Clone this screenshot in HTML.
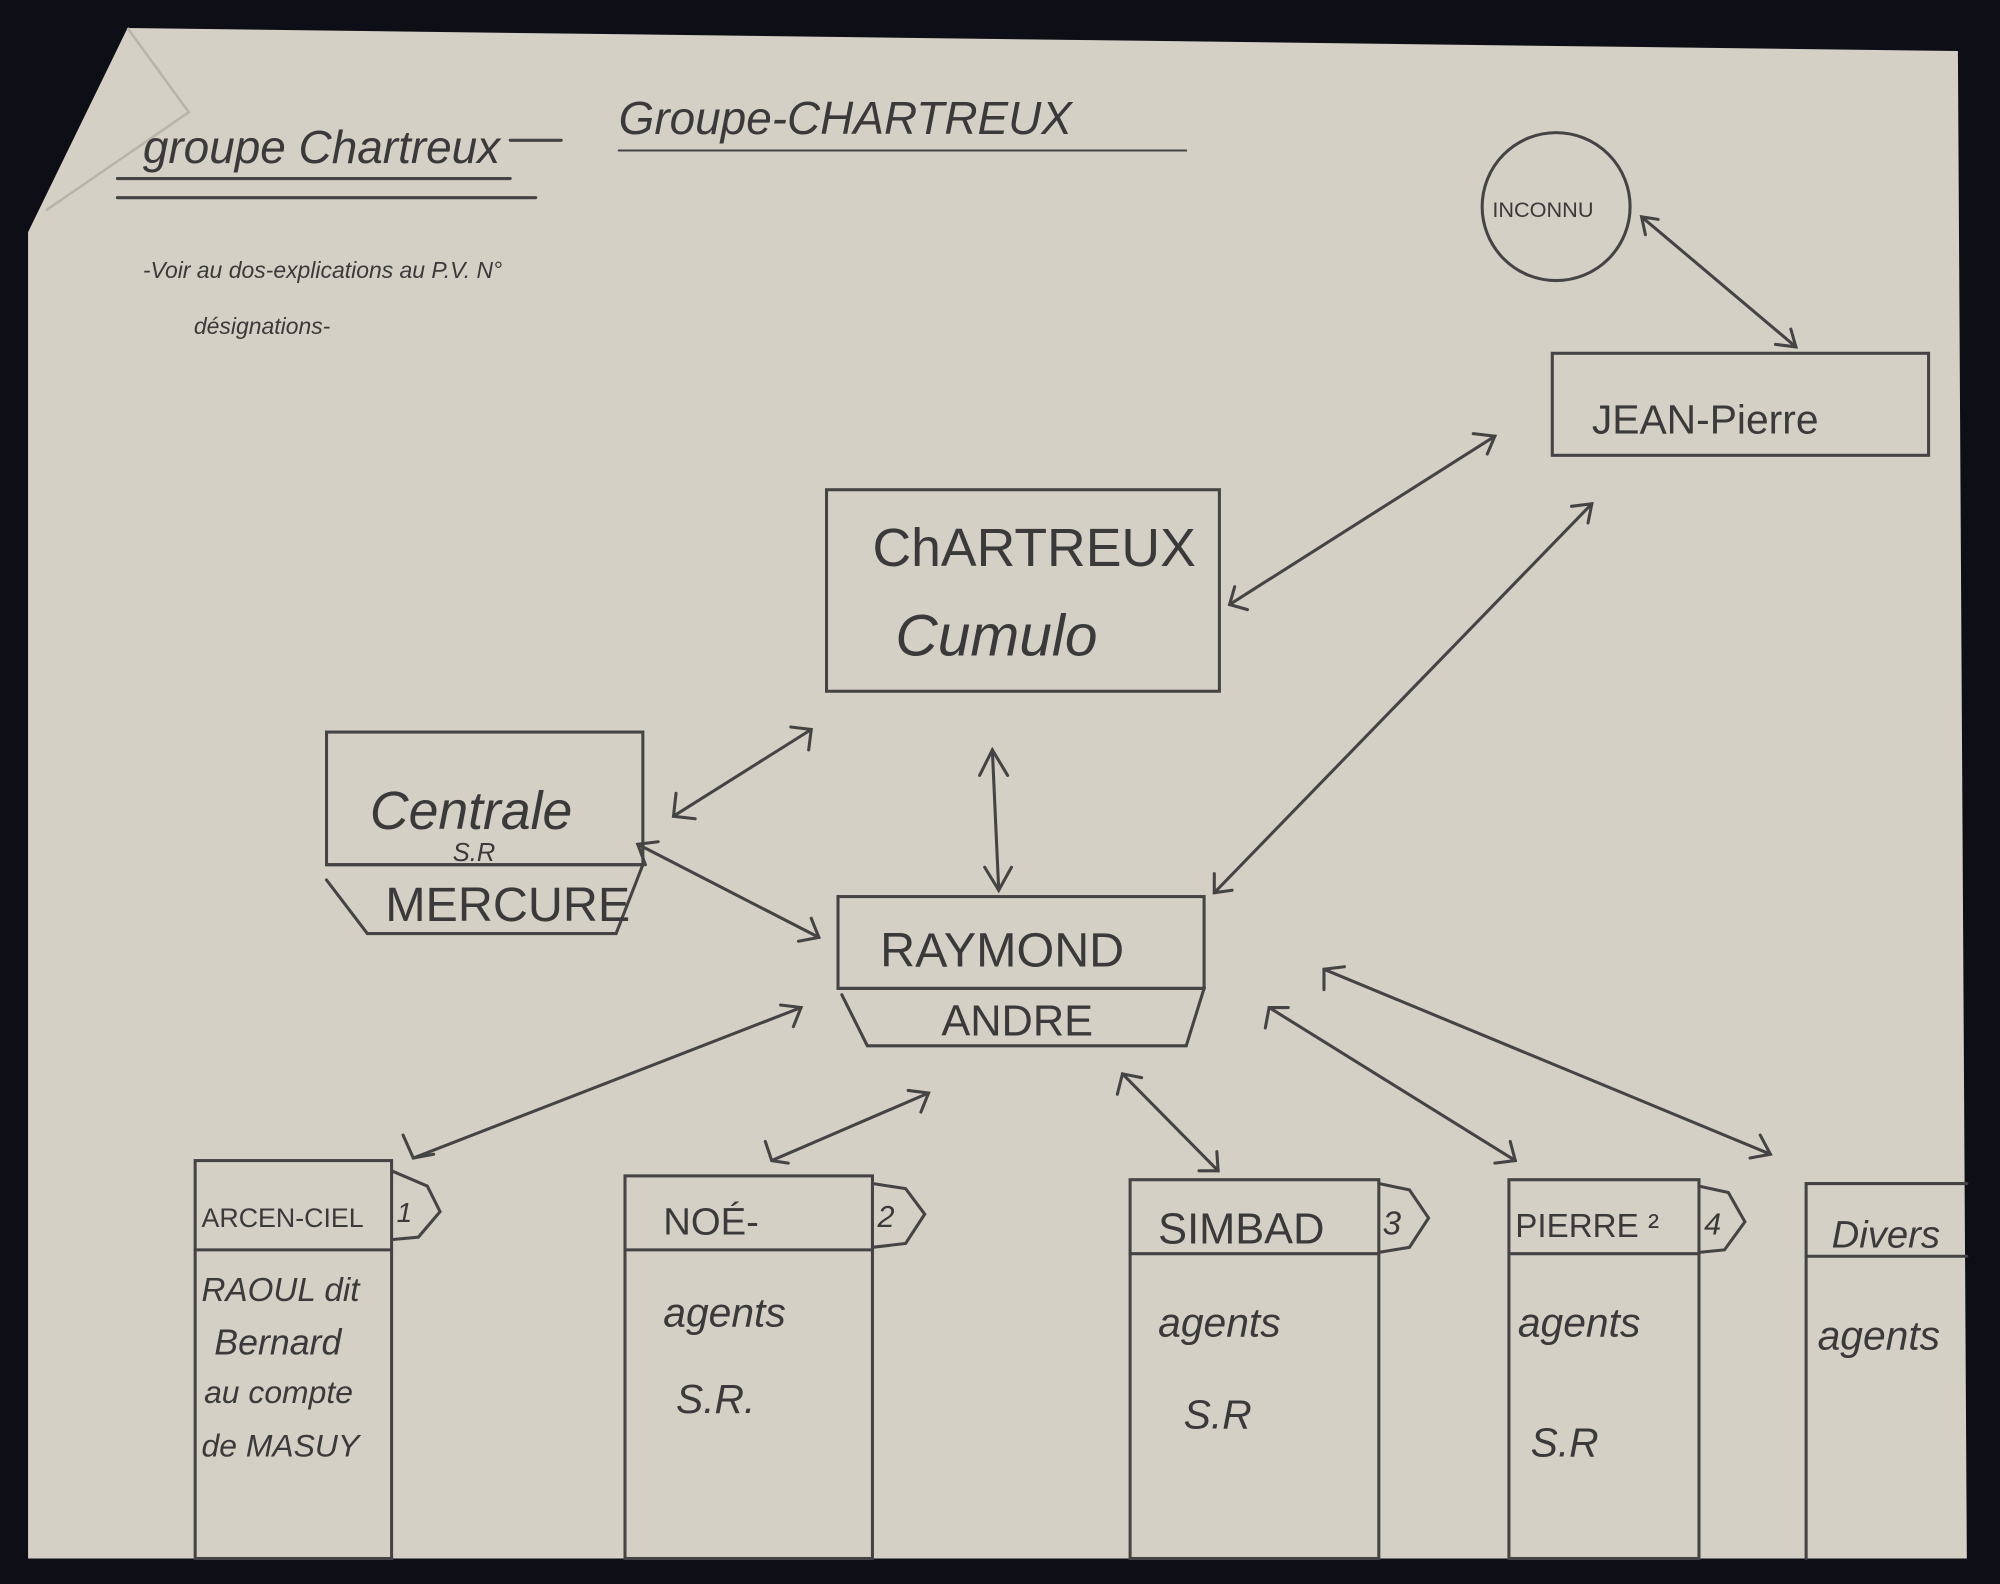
<!DOCTYPE html>
<html><head><style>
html,body{margin:0;padding:0;background:#0e0f16;}
svg{display:block}
text{font-family:"Liberation Sans",sans-serif;fill:#3a3a3a}
</style></head><body>
<svg width="2000" height="1584" viewBox="0 0 1568 1242" preserveAspectRatio="none">
<rect width="1568" height="1242" fill="#0e0f16"/>
<polygon points="100,22 1535,40 1542,1222 22,1222 22,182" fill="#d5d0c5"/>
<polyline points="100,22 148,88 36,165" fill="none" stroke="#b9b4aa" stroke-width="2"/>
<g stroke="#444" stroke-width="2.4" fill="none" stroke-linecap="round">
<!-- header -->
<line x1="92" y1="140" x2="400" y2="140"/><line x1="92" y1="155" x2="420" y2="155"/>
<line x1="485" y1="118" x2="930" y2="118" stroke-width="1.5"/>
<line x1="400" y1="110" x2="440" y2="110"/>
<!-- inconnu -->
<circle cx="1220" cy="162" r="58"/>
<rect x="1217" y="277" width="295" height="80"/>
<rect x="648" y="384" width="308" height="158"/>
<rect x="256" y="574" width="248" height="104"/>
<polyline points="256,678 504,678 483,732 288,732 256,690"/>
<rect x="657" y="703" width="287" height="72"/>
<polyline points="657,775 944,775 930,820 680,820 660,780"/>
<!-- bottom boxes -->
<rect x="153" y="910" width="154" height="312"/><line x1="153" y1="980" x2="307" y2="980"/><polyline points="307,918 335,930 345,950 328,970 307,972"/>
<rect x="490" y="922" width="194" height="300"/><line x1="490" y1="980" x2="684" y2="980"/><polyline points="684,928 710,932 725,952 710,975 684,978"/>
<rect x="886" y="925" width="195" height="297"/><line x1="886" y1="983" x2="1081" y2="983"/><polyline points="1081,928 1105,933 1120,955 1105,978 1081,982"/>
<rect x="1183" y="925" width="149" height="297"/><line x1="1183" y1="983" x2="1332" y2="983"/><polyline points="1332,930 1355,935 1368,958 1352,980 1332,982"/>
<polyline points="1542,928 1416,928 1416,1222"/><line x1="1416" y1="985" x2="1542" y2="985"/>
<!-- arrows -->
<g>
<line x1="1287" y1="170" x2="1408" y2="272"/><polyline points="1300,172 1287,170 1290,184"/><polyline points="1392,270 1408,272 1404,258"/>
<line x1="964" y1="474" x2="1172" y2="342"/><polyline points="968,460 964,474 978,478"/><polyline points="1155,340 1172,342 1166,356"/>
<line x1="952" y1="700" x2="1248" y2="395"/><polyline points="952,685 952,700 966,698"/><polyline points="1232,397 1248,395 1245,410"/>
<line x1="778" y1="588" x2="783" y2="698"/><polyline points="768,608 778,588 790,608"/><polyline points="772,680 783,698 793,680"/>
<line x1="528" y1="640" x2="636" y2="572"/><polyline points="530,622 528,640 545,642"/><polyline points="620,570 636,572 634,588"/>
<line x1="500" y1="662" x2="642" y2="735"/><polyline points="506,678 500,662 516,660"/><polyline points="626,738 642,735 636,720"/>
<line x1="324" y1="908" x2="628" y2="790"/><polyline points="316,890 324,908 340,905"/><polyline points="612,788 628,790 622,805"/>
<line x1="605" y1="910" x2="728" y2="857"/><polyline points="600,895 605,910 618,912"/><polyline points="712,855 728,857 722,872"/>
<line x1="880" y1="842" x2="955" y2="918"/><polyline points="876,858 880,842 895,845"/><polyline points="940,918 955,918 954,903"/>
<line x1="995" y1="790" x2="1188" y2="910"/><polyline points="992,806 995,790 1010,790"/><polyline points="1172,912 1188,910 1184,895"/>
<line x1="1038" y1="760" x2="1388" y2="905"/><polyline points="1038,776 1038,760 1054,758"/><polyline points="1372,908 1388,905 1380,890"/>
</g>
</g>
<g font-size="34" style="font-style:italic">
<text x="112" y="128" font-size="36">groupe Chartreux</text>
<text x="485" y="105" font-size="36">Groupe-CHARTREUX</text>
<text x="112" y="218" font-size="18">-Voir au dos-explications au P.V. N°</text>
<text x="152" y="262" font-size="18">désignations-</text>
<text x="1170" y="170" font-size="17" font-style="normal">INCONNU</text>
<text x="1248" y="340" font-size="32" font-style="normal">JEAN-Pierre</text>
<text x="684" y="444" font-size="42" font-style="normal">ChARTREUX</text>
<text x="702" y="514" font-size="46">Cumulo</text>
<text x="290" y="650" font-size="42">Centrale</text>
<text x="355" y="675" font-size="20">S.R</text>
<text x="302" y="722" font-size="38" font-style="normal">MERCURE</text>
<text x="690" y="758" font-size="38" font-style="normal">RAYMOND</text>
<text x="738" y="812" font-size="34" font-style="normal">ANDRE</text>
<text x="158" y="962" font-size="21" font-style="normal">ARCEN-CIEL</text>
<text x="311" y="958" font-size="22">1</text>
<text x="158" y="1020" font-size="26">RAOUL dit</text>
<text x="168" y="1062" font-size="28">Bernard</text>
<text x="160" y="1100" font-size="25">au compte</text>
<text x="158" y="1142" font-size="25">de MASUY</text>
<text x="520" y="968" font-size="30" font-style="normal">NOÉ-</text>
<text x="688" y="962" font-size="24">2</text>
<text x="520" y="1040" font-size="32">agents</text>
<text x="530" y="1108" font-size="32">S.R.</text>
<text x="908" y="975" font-size="34" font-style="normal">SIMBAD</text>
<text x="1084" y="968" font-size="26">3</text>
<text x="908" y="1048" font-size="32">agents</text>
<text x="928" y="1120" font-size="32">S.R</text>
<text x="1188" y="970" font-size="26" font-style="normal">PIERRE ²</text>
<text x="1336" y="968" font-size="24">4</text>
<text x="1190" y="1048" font-size="32">agents</text>
<text x="1200" y="1142" font-size="32">S.R</text>
<text x="1436" y="978" font-size="30">Divers</text>
<text x="1425" y="1058" font-size="32">agents</text>
</g>
</svg>
</body></html>
